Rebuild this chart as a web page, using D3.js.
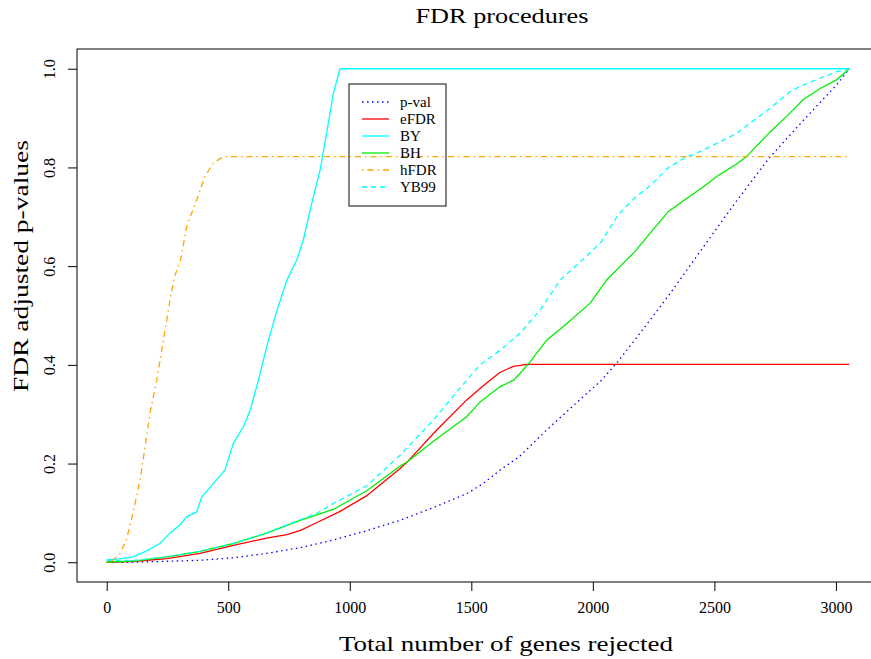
<!DOCTYPE html>
<html>
<head>
<meta charset="utf-8">
<script src="https://cdn.jsdelivr.net/npm/d3@7"></script>
<style>
  body { margin: 0; background: #fff; }
  svg text { font-family: "Liberation Serif", "Tinos", "Times New Roman", "Nimbus Roman", "DejaVu Serif", serif; fill: #000; }
</style>
</head>
<body>
<svg id="chart"></svg>
<script>
// genes rejected vs adjusted p-value
const pvalPoints = [[0,0],[108,0],[250,0.002],[384,0.004],[520,0.009],[658,0.018],[800,0.03],[932,0.045],[1070,0.064],[1207,0.085],[1340,0.11],[1481,0.139],[1550,0.16],[1619,0.187],[1700,0.215],[1810,0.268],[1948,0.33],[2036,0.369],[2100,0.405],[2172,0.45],[2311,0.54],[2449,0.635],[2588,0.73],[2727,0.82],[2865,0.895],[3004,0.968],[3055,1.0]];
const efdrPoints = [[0,0],[120,0.002],[247,0.0075],[384,0.018],[521,0.034],[658,0.049],[741,0.056],[800,0.065],[850,0.077],[960,0.103],[1070,0.135],[1207,0.19],[1236,0.203],[1344,0.261],[1481,0.329],[1536,0.352],[1577,0.369],[1619,0.385],[1673,0.397],[1728,0.401],[3055,0.401]];
const byPoints = [[0,0.005],[50,0.007],[108,0.011],[160,0.022],[219,0.038],[260,0.059],[300,0.075],[329,0.092],[370,0.102],[391,0.132],[439,0.16],[487,0.187],[521,0.241],[562,0.274],[590,0.308],[624,0.369],[660,0.44],[700,0.51],[740,0.57],[782,0.613],[809,0.653],[837,0.714],[878,0.795],[905,0.87],[933,0.951],[960,1.0],[3055,1.0]];
const bhPoints = [[0,0],[120,0.003],[247,0.011],[384,0.022],[521,0.038],[658,0.059],[795,0.085],[932,0.107],[1070,0.145],[1207,0.195],[1236,0.203],[1344,0.245],[1481,0.295],[1536,0.325],[1619,0.356],[1674,0.369],[1701,0.383],[1742,0.406],[1810,0.45],[1893,0.484],[1989,0.525],[2057,0.572],[2113,0.6],[2172,0.629],[2241,0.67],[2311,0.711],[2380,0.735],[2449,0.759],[2520,0.785],[2588,0.806],[2630,0.821],[2727,0.871],[2800,0.905],[2865,0.937],[2935,0.96],[3004,0.978],[3055,1.0]];
const hfdrPoints = [[0,0],[26,0.004],[55,0.018],[81,0.045],[108,0.099],[137,0.166],[158,0.234],[178,0.302],[206,0.369],[230,0.44],[260,0.53],[280,0.58],[304,0.613],[329,0.68],[370,0.734],[404,0.782],[439,0.809],[480,0.822],[3055,0.822]];
const yb99Points = [[0,0.004],[120,0.004],[247,0.011],[384,0.022],[521,0.038],[658,0.06],[795,0.086],[860,0.098],[932,0.119],[1070,0.155],[1207,0.217],[1344,0.288],[1481,0.369],[1536,0.4],[1619,0.43],[1701,0.464],[1783,0.511],[1866,0.572],[1978,0.622],[2034,0.649],[2104,0.704],[2172,0.738],[2241,0.765],[2311,0.8],[2380,0.82],[2449,0.834],[2588,0.868],[2727,0.919],[2810,0.953],[2865,0.967],[2935,0.981],[3004,0.994],[3055,1.0]];

const seriesNames = ["p-val", "eFDR", "BY", "BH", "hFDR", "YB99"];
const seriesColors = ["blue", "red", "cyan", "#00ee00", "orange", "cyan"];
const seriesDashes = ["1.5,3.5", null, null, null, "1.5,4,6,4", "5,4"];
const xTicks = [0, 500, 1000, 1500, 2000, 2500, 3000];
const yTicks = [0, 0.2, 0.4, 0.6, 0.8, 1.0];

function drawFdrChart() {
    const W = 871, H = 659;
    const box = { left: 77, top: 49, right: 879, bottom: 582 };
    const allSeries = [pvalPoints, efdrPoints, byPoints, bhPoints, hfdrPoints, yb99Points];

    // R-style 4% padding on each side of the data range
    const xMax = 3055, padX = xMax * 0.04;
    const xScale = d3.scaleLinear().domain([-padX, xMax + padX]).range([box.left, box.right]);
    const yScale = d3.scaleLinear().domain([-0.04, 1.04]).range([box.bottom, box.top]);

    const svg = d3.select("#chart")
        .attr("width", W)
        .attr("height", H)
        .attr("viewBox", [0, 0, W, H]);

    const line = d3.line()
        .x(d => xScale(d[0]))
        .y(d => yScale(d[1]));

    // curves
    svg.append("g")
        .selectAll("path")
        .data(allSeries)
        .join("path")
        .attr("fill", "none")
        .attr("stroke", (d, i) => seriesColors[i])
        .attr("stroke-width", 1.3)
        .attr("stroke-dasharray", (d, i) => seriesDashes[i])
        .attr("d", d => line(d));

    // plot frame
    svg.append("rect")
        .attr("x", box.left)
        .attr("y", box.top)
        .attr("width", box.right - box.left)
        .attr("height", box.bottom - box.top)
        .attr("fill", "none")
        .attr("stroke", "#000")
        .attr("stroke-width", 1);

    // x axis
    const xAxisGroup = svg.append("g")
        .attr("transform", `translate(0,${box.bottom})`)
        .call(d3.axisBottom(xScale).tickValues(xTicks).tickFormat(d3.format("d"))
            .tickSize(9).tickSizeOuter(0).tickPadding(11));
    xAxisGroup.attr("font-family", null);
    xAxisGroup.select(".domain").remove();
    xAxisGroup.selectAll(".tick line").attr("stroke", "#000");
    xAxisGroup.selectAll(".tick text")
        .style("font-size", "16px");

    // y axis, labels turned like R's las=0
    const yAxisGroup = svg.append("g")
        .attr("transform", `translate(${box.left},0)`)
        .call(d3.axisLeft(yScale).tickValues(yTicks).tickSize(9).tickSizeOuter(0).tickFormat(d3.format(".1f")));
    yAxisGroup.attr("font-family", null);
    yAxisGroup.select(".domain").remove();
    yAxisGroup.selectAll(".tick line").attr("stroke", "#000");
    yAxisGroup.selectAll(".tick text")
        .attr("x", null)
        .attr("dy", null)
        .attr("transform", "translate(-22,0) rotate(-90)")
        .attr("text-anchor", "middle")
        .style("font-size", "16px");

    // title and axis labels
    svg.append("text")
        .attr("x", 502)
        .attr("y", 23)
        .attr("text-anchor", "middle")
        .attr("textLength", 173)
        .attr("lengthAdjust", "spacingAndGlyphs")
        .style("font-size", "22px")
        .text("FDR procedures");

    svg.append("text")
        .attr("x", 506)
        .attr("y", 651)
        .attr("text-anchor", "middle")
        .attr("textLength", 334)
        .attr("lengthAdjust", "spacingAndGlyphs")
        .style("font-size", "22px")
        .text("Total number of genes rejected");

    svg.append("text")
        .attr("transform", "translate(28,266) rotate(-90)")
        .attr("text-anchor", "middle")
        .attr("textLength", 252)
        .attr("lengthAdjust", "spacingAndGlyphs")
        .style("font-size", "22px")
        .text("FDR adjusted p-values");

    // legend
    const legend = svg.append("g").attr("transform", "translate(349,84)");
    legend.append("rect")
        .attr("width", 97)
        .attr("height", 122)
        .attr("fill", "none")
        .attr("stroke", "#333")
        .attr("stroke-width", 1.2);
    const rows = legend.selectAll("g.row")
        .data(seriesNames)
        .join("g")
        .attr("class", "row")
        .attr("transform", (d, i) => `translate(0,${18 + i * 17})`);
    rows.append("line")
        .attr("x1", 13)
        .attr("x2", 40)
        .attr("stroke", (d, i) => seriesColors[i])
        .attr("stroke-width", 1.3)
        .attr("stroke-dasharray", (d, i) => seriesDashes[i]);
    rows.append("text")
        .attr("x", 51)
        .attr("dy", "0.35em")
        .style("font-size", "15px")
        .text(d => d);
}

drawFdrChart();
</script>
</body>
</html>
